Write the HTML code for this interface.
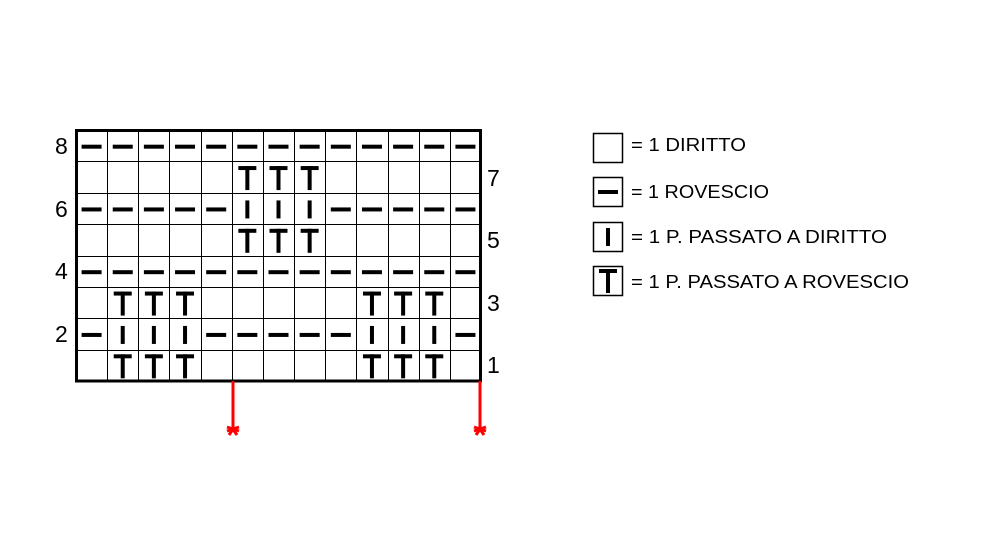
<!DOCTYPE html>
<html><head><meta charset="utf-8"><style>
html,body{margin:0;padding:0;background:#fff;}
svg{display:block;}
text{font-family:"Liberation Sans",sans-serif;}
</style></head><body>
<svg width="1000" height="560" viewBox="0 0 1000 560" xmlns="http://www.w3.org/2000/svg">
<defs>
<g id="d"><rect x="-10" y="-2" width="20" height="4" fill="#000"/></g>
<g id="i"><rect x="-2" y="-9" width="4" height="18" fill="#000"/></g>
<g id="t"><rect x="-9" y="-12" width="18" height="4" fill="#000"/><rect x="-2" y="-12" width="4" height="24" fill="#000"/></g>
<g id="ast" stroke="#f00" stroke-width="3"><line x1="0" y1="-6" x2="0" y2="0"/><line x1="-6" y1="-2" x2="6" y2="2"/><line x1="6" y1="-2" x2="-6" y2="2"/><line x1="0" y1="0" x2="-4" y2="6"/><line x1="0" y1="0" x2="4" y2="6"/></g>
</defs>
<g id="grid" stroke="#000" stroke-width="1" fill="none">
</g>
<g id="sym"></g>
<rect x="76.5" y="130.5" width="404" height="250.5" fill="none" stroke="#000" stroke-width="3"/>
<g fill="#000" font-size="23">
<text x="55" y="154">8</text><text x="55" y="217">6</text><text x="55" y="279">4</text><text x="55" y="342">2</text>
<text x="487" y="186">7</text><text x="487" y="248">5</text><text x="487" y="311">3</text><text x="487" y="373">1</text>
</g>
<line x1="233" y1="381" x2="233" y2="425" stroke="#f00" stroke-width="3"/>
<line x1="480" y1="381" x2="480" y2="425" stroke="#f00" stroke-width="3"/>
<use href="#ast" x="233" y="429"/>
<use href="#ast" x="480" y="429"/>
<g stroke="#000" stroke-width="1.5" fill="none">
<rect x="593.5" y="133.5" width="29" height="29"/>
<rect x="593.5" y="177.5" width="29" height="29"/>
<rect x="593.5" y="222.5" width="29" height="29"/>
<rect x="593.5" y="266.5" width="29" height="29"/>
</g>
<use href="#d" x="608" y="192"/>
<use href="#i" x="608" y="237"/>
<use href="#t" x="608" y="281"/>
<g fill="#000" font-size="18">
<text x="631" y="151" textLength="115" lengthAdjust="spacingAndGlyphs">= 1 DIRITTO</text>
<text x="631" y="198" textLength="138" lengthAdjust="spacingAndGlyphs">= 1 ROVESCIO</text>
<text x="631" y="243" textLength="256" lengthAdjust="spacingAndGlyphs">= 1 P. PASSATO A DIRITTO</text>
<text x="631" y="288" textLength="278" lengthAdjust="spacingAndGlyphs">= 1 P. PASSATO A ROVESCIO</text>
</g>
<script>
var g=document.getElementById('grid'),s=document.getElementById('sym'),NS='http://www.w3.org/2000/svg';
var x0=76,y0=130,cw=(481-76)/13,rh=(381-130)/8;
for(var k=1;k<13;k++){var l=document.createElementNS(NS,'line');var x=Math.round(x0+k*cw)+0.5;l.setAttribute('x1',x);l.setAttribute('x2',x);l.setAttribute('y1',y0);l.setAttribute('y2',381);g.appendChild(l);}
for(var k=1;k<8;k++){var l=document.createElementNS(NS,'line');var y=Math.round(y0+k*rh)+0.5;l.setAttribute('y1',y);l.setAttribute('y2',y);l.setAttribute('x1',x0);l.setAttribute('x2',481);g.appendChild(l);}
var rows=["ddddddddddddd","_____ttt_____","dddddiiiddddd","_____ttt_____","ddddddddddddd","_ttt_____ttt_","diiidddddiiid","_ttt_____ttt_"];
rows.forEach(function(r,ri){for(var c=0;c<13;c++){var ch=r[c];if(ch=='_')continue;var u=document.createElementNS(NS,'use');u.setAttribute('href','#'+ch);u.setAttribute('x',x0+(c+0.5)*cw);u.setAttribute('y',y0+(ri+0.5)*rh+1);s.appendChild(u);}});
</script>
</svg>
</body></html>
